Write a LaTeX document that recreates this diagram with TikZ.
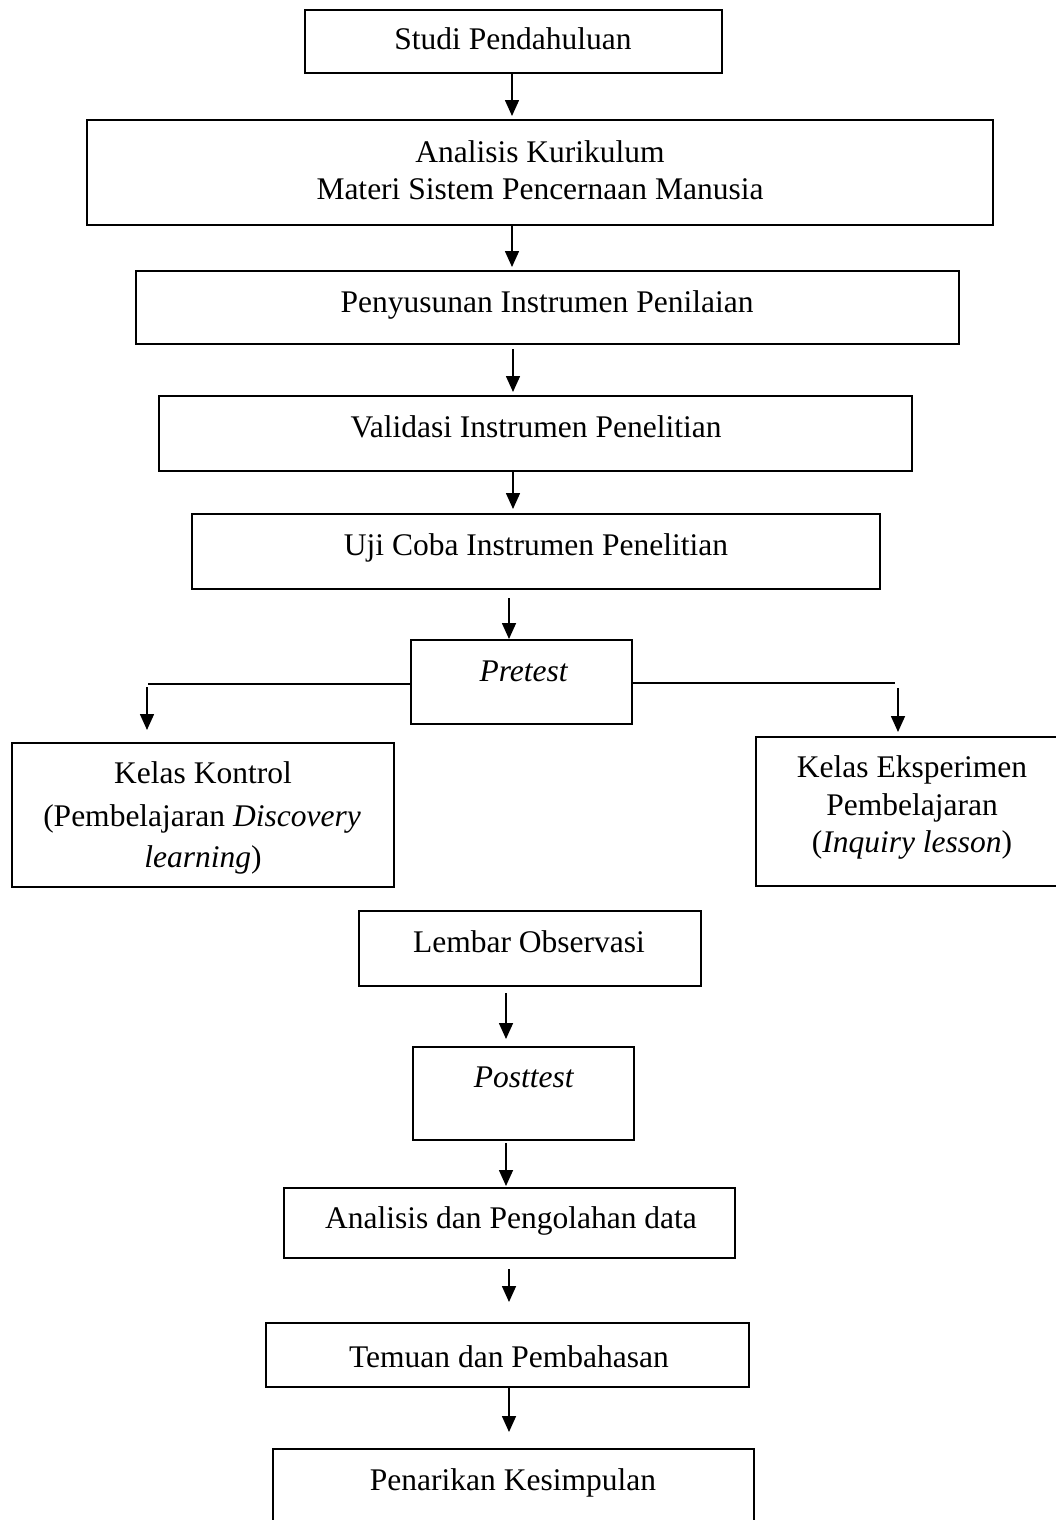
\documentclass[tikz,border=0pt]{standalone}
\usepackage{fontspec}
\setmainfont{Liberation Serif}
\usetikzlibrary{arrows.meta}
\begin{document}
\begin{tikzpicture}[x=1pt,y=-1pt,
  box/.style={draw=black,line width=2pt,inner sep=0pt},
  txt/.style={inner sep=0pt,align=center,font=\fontsize{31.5}{37.5}\selectfont},
  arr/.style={line width=1.6pt,-{Triangle[length=16pt,width=14pt]}},
  hline/.style={line width=1.1pt}]
\useasboundingbox (0,0) rectangle (1056,1520);
\clip (0,0) rectangle (1056,1520);
\fill[white] (0,0) rectangle (1056,1520);
% boxes: corners given in pixel coordinates
\newcommand{\pbox}[5]{\node[box,minimum width={#4-#2},minimum height={#5-#3}] (#1) at ({(#2+#4)/2},{(#3+#5)/2}) {};}
\pbox{b1}{305}{10}{722}{73}
\pbox{b2}{87}{120}{993}{225}
\pbox{b3}{136}{271}{959}{344}
\pbox{b4}{159}{396}{912}{471}
\pbox{b5}{192}{514}{880}{589}
\pbox{b6}{411}{640}{632}{724}
\pbox{b7}{12}{743}{394}{887}
\pbox{b8}{756}{737}{1068}{886}
\pbox{b9}{359}{911}{701}{986}
\pbox{b10}{413}{1047}{634}{1140}
\pbox{b11}{284}{1188}{735}{1258}
\pbox{b12}{266}{1323}{749}{1387}
\pbox{b13}{273}{1449}{754}{1545}
% texts (anchor = baseline)
\node[txt,anchor=base] (t1) at (513,50) {Studi Pendahuluan};
\node[txt,anchor=base] (t2a) at (540,162) {Analisis Kurikulum};
\node[txt,anchor=base] (t2b) at (540,199) {Materi Sistem Pencernaan Manusia};
\node[txt,anchor=base] (t3) at (547,312) {Penyusunan Instrumen Penilaian};
\node[txt,anchor=base] (t4) at (536,437) {Validasi Instrumen Penelitian};
\node[txt,anchor=base] (t5) at (536,555) {Uji Coba Instrumen Penelitian};
\node[txt,anchor=base] (t6) at (524,681) {\textit{Pretest}};
\node[txt,anchor=base] (t7a) at (203,783) {Kelas Kontrol};
\node[txt,anchor=base] (t7b) at (202,826) {(Pembelajaran \textit{Discovery}};
\node[txt,anchor=base] (t7c) at (203,867) {\textit{learning})};
\node[txt,anchor=base] (t8a) at (912,777) {Kelas Eksperimen};
\node[txt,anchor=base] (t8b) at (912,815) {Pembelajaran};
\node[txt,anchor=base] (t8c) at (912,852) {(\textit{Inquiry lesson})};
\node[txt,anchor=base] (t9) at (529,952) {Lembar Observasi};
\node[txt,anchor=base] (t10) at (524,1087) {\textit{Posttest}};
\node[txt,anchor=base] (t11) at (511,1228) {Analisis dan Pengolahan data};
\node[txt,anchor=base] (t12) at (509,1367) {Temuan dan Pembahasan};
\node[txt,anchor=base] (t13) at (513,1490) {Penarikan Kesimpulan};
% arrow columns
\coordinate (xa) at (512,0);
\coordinate (xb) at (513,0);
\coordinate (xc) at (509,0);
\coordinate (xd) at (506,0);
\draw[arr,shorten >=3pt] (b1.south -| xa) -- (b2.north -| xa);
\draw[arr,shorten >=3pt] (b2.south -| xa) -- (b3.north -| xa);
\draw[arr,shorten <=4pt,shorten >=3pt] (b3.south -| xb) -- (b4.north -| xb);
\draw[arr,shorten >=4pt] (b4.south -| xb) -- (b5.north -| xb);
\draw[arr,shorten <=8pt] (b5.south -| xc) -- (b6.north -| xc);
% pretest branches
\coordinate (lL) at (148,684);
\coordinate (lLa) at (147,687);
\coordinate (lR) at (895,683);
\coordinate (lRa) at (898,688);
\draw[hline] (b6.west |- lL) -- (lL);
\draw[arr,shorten >=12pt] (lLa) -- (b7.north -| lLa);
\draw[hline] (b6.east |- lR) -- (lR);
\draw[arr,shorten >=4pt] (lRa) -- (b8.north -| lRa);
% lower column
\draw[arr,shorten <=6pt,shorten >=7pt] (b9.south -| xd) -- (b10.north -| xd);
\draw[arr,shorten <=2pt,shorten >=1pt] (b10.south -| xd) -- (b11.north -| xd);
\draw[arr,shorten <=10pt,shorten >=20pt] (b11.south -| xc) -- (b12.north -| xc);
\draw[arr,shorten >=16pt] (b12.south -| xc) -- (b13.north -| xc);
\end{tikzpicture}
\end{document}
